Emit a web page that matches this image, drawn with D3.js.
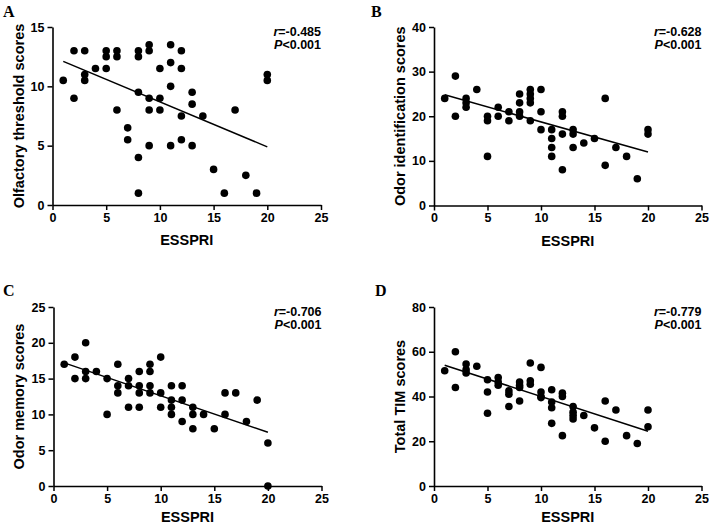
<!DOCTYPE html>
<html><head><meta charset="utf-8">
<script src="https://cdn.jsdelivr.net/npm/d3@7"></script>
<style>
body{margin:0;background:#fff;}
svg{display:block;}
text{font-family:"Liberation Sans",Arial,sans-serif;font-weight:bold;fill:#000;}
</style></head>
<body>
<svg id="chart" width="709" height="526"></svg>
<script>
// ---- data ----
const xTicks = [0, 5, 10, 15, 20, 25];

const essA = [1,2,2,3,3,3,4,5,5,5,6,6,6,7,7,8,8,8,8,8,9,9,9,9,9,10,10,10,11,11,11,11,12,12,12,12,13,13,13,14,15,16,17,18,19,20,20];
const olfA = [10.5,13,9,13,11,10.5,11.5,13,12.5,11.5,13,12.5,8,6.5,5.5,13,12.5,9.5,4,1,13.5,13,9,8,5,11.5,9,8,13.5,12,10,5,13,11.5,7.5,5.5,9.5,8.5,5,7.5,3,1,8,2.5,1,11,10.5];
const fitA = [12.1, 4.9];

const essB = [1,2,2,3,3,3,4,5,5,5,6,6,7,7,8,8,8,8,9,9,9,9,9,10,10,10,11,11,11,11,12,12,12,12,13,13,13,14,15,16,16,17,18,19,20,20];
const odiB = [24,29,20,24,23,22,26,20,19,11,22,20,21,19,25,23,21,20,26,25,24,23,19,26,21,17,17,15,13,11,21,20,16,8,17,16,13,14,15,24,9,13,11,6,17,16];
const fitB = [24.8, 12.0];

const essC = [1,2,2,3,3,3,4,5,5,6,6,6,7,7,7,8,8,8,8,9,9,9,9,10,10,10,11,11,11,11,12,12,12,13,13,13,14,15,16,16,17,18,19,20,20];
const memC = [17,18,15,20,16,15,16,15,10,17,14,13,15,14,11,16,14,13,11,17,16,14,13,18,13,11,14,12,11,10,14,12,9,11,10,8,10,8,13,10,13,9,12,6,0];
const fitC = [17.2, 7.5];

const essD = [1,2,2,3,3,3,4,5,5,5,6,6,6,7,7,7,8,8,8,8,9,9,9,10,10,10,10,11,11,11,11,12,12,12,13,13,13,13,14,15,16,16,17,18,19,20,20];
const timD = [51.5,60,44,54.5,52,50.5,53.5,47.5,42,32.5,48.5,46.5,45,42.5,41,35.5,46.5,45,44,38,55,47,45.5,53,42,40,39.5,43,37.5,35,28,41.5,40,22.5,35.5,33,31.5,30,31.5,26,38,20,34,22.5,19,34,26.5];
const fitD = [54.0, 24.5];

const yTicksA = [0, 5, 10, 15];
const yTicksB = [0, 10, 20, 30, 40];
const yTicksC = [0, 5, 10, 15, 20, 25];
const yTicksD = [0, 20, 40, 60, 80];

const panels = [
  {letter:"A", ylab:"Olfactory threshold scores", xs:essA, ys:olfA, fit:fitA, yt:yTicksA, r:"-0.485",
   x0:52.5, x1:321, y0:205, y1:27, lx:3, ly:17, tx:19, xl:40},
  {letter:"B", ylab:"Odor identification scores", xs:essB, ys:odiB, fit:fitB, yt:yTicksB, r:"-0.628",
   x0:434, x1:701.5, y0:205.5, y1:27, lx:371, ly:17, tx:400, xl:40},
  {letter:"C", ylab:"Odor memory scores", xs:essC, ys:memC, fit:fitC, yt:yTicksC, r:"-0.706",
   x0:53.5, x1:321.5, y0:486, y1:307, lx:3, ly:296, tx:19, xl:36},
  {letter:"D", ylab:"Total TIM scores", xs:essD, ys:timD, fit:fitD, yt:yTicksD, r:"-0.779",
   x0:434, x1:701.5, y0:486, y1:307, lx:375, ly:296, tx:400, xl:36}
];

const svg = d3.select("#chart");

panels.forEach(p => {
  const g = svg.append("g");
  const x = d3.scaleLinear().domain([0, 25]).range([p.x0, p.x1]);
  const ymax = p.yt[p.yt.length - 1];
  const y = d3.scaleLinear().domain([0, ymax]).range([p.y0, p.y1]);

  const xAxis = g.append("g").attr("transform", `translate(0,${p.y0})`)
    .call(d3.axisBottom(x).tickValues(xTicks).tickSize(5).tickPadding(3).tickSizeOuter(0));
  const yAxis = g.append("g").attr("transform", `translate(${p.x0},0)`)
    .call(d3.axisLeft(y).tickValues(p.yt).tickSize(5).tickPadding(3).tickSizeOuter(0));
  [xAxis, yAxis].forEach(a => {
    a.select(".domain").attr("stroke", "#000").attr("stroke-width", 1.6);
    a.selectAll(".tick line").attr("stroke", "#000").attr("stroke-width", 1.5);
    a.selectAll(".tick text").style("font-size", "12.5px").style("font-family", "'Liberation Sans', Arial, sans-serif").style("font-weight", "bold").attr("fill", "#000");
  });

  // regression line
  g.append("line")
    .attr("x1", x(1)).attr("y1", y(p.fit[0]))
    .attr("x2", x(20)).attr("y2", y(p.fit[1]))
    .attr("stroke", "#000").attr("stroke-width", 1.5);

  // points
  g.selectAll("circle.pt").data(p.xs.map((v, i) => [v, p.ys[i]])).enter()
    .append("circle").attr("class", "pt")
    .attr("cx", d => x(d[0])).attr("cy", d => y(d[1])).attr("r", 3.8).attr("fill", "#000");

  // labels
  g.append("text").attr("x", (p.x0 + p.x1) / 2).attr("y", p.y0 + p.xl)
    .attr("text-anchor", "middle").style("font-size", "14.5px").text("ESSPRI");
  g.append("text")
    .attr("transform", `translate(${p.tx},${(p.y0 + p.y1) / 2}) rotate(-90)`)
    .attr("text-anchor", "middle").attr("dy", "0.35em").style("font-size", "14.5px").text(p.ylab);

  g.append("text").attr("x", p.lx).attr("y", p.ly)
    .style("font-family", "'Liberation Serif', 'Times New Roman', serif").style("font-size", "16px")
    .text(p.letter);

  const t1 = g.append("text").attr("x", p.x1).attr("y", p.y1 + 9).attr("text-anchor", "end").style("font-size", "12.5px");
  t1.append("tspan").style("font-style", "italic").text("r");
  t1.append("tspan").text("=" + p.r);
  const t2 = g.append("text").attr("x", p.x1).attr("y", p.y1 + 22).attr("text-anchor", "end").style("font-size", "12.5px");
  t2.append("tspan").style("font-style", "italic").text("P");
  t2.append("tspan").text("<0.001");
});
</script>
</body></html>
